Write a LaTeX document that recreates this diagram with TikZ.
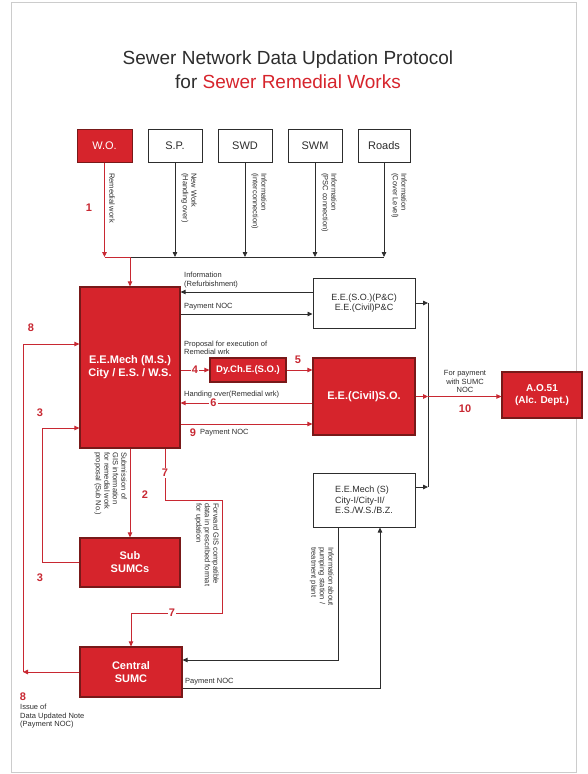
\documentclass[tikz,border=0pt]{standalone}
\usepackage{fontspec}
\setmainfont{Liberation Sans}
\usetikzlibrary{arrows.meta}
\definecolor{sred}{RGB}{214,36,44}
\definecolor{sdark}{RGB}{120,25,25}
\definecolor{ink}{RGB}{45,45,45}
\definecolor{lred}{RGB}{200,40,50}
\begin{document}
\begin{tikzpicture}[x=1pt,y=-1pt,
 redbox/.style={draw=sdark,line width=1.2pt,fill=sred,text=white,font=\bfseries\fontsize{11}{13}\selectfont,align=center,inner sep=1pt},
 topbox/.style={draw=ink,line width=1pt,fill=white,text=ink,font=\fontsize{11}{13}\selectfont,minimum width=54pt,minimum height=33pt,inner sep=1pt},
 whitebox/.style={draw=ink,line width=1pt,fill=white,text=ink,font=\fontsize{9}{10.5}\selectfont,align=center,inner sep=1pt},
 blk/.style={draw=ink,line width=0.8pt},
 rln/.style={draw=lred,line width=0.9pt},
 tip/.style={-{Triangle[length=5pt,width=4.5pt]}},
 lbl/.style={text=ink,font=\fontsize{7.5}{8.5}\selectfont,inner sep=0pt,align=left},
 num/.style={text=lred,font=\bfseries\fontsize{11}{12}\selectfont,inner sep=1pt},
]
\useasboundingbox (0,0) rectangle (587,774);
\draw[gray!40,line width=0.6pt] (11,2) rectangle (576,772);

% title
\node[font=\fontsize{19}{22}\selectfont,text=ink] (t1) at (288,60) {Sewer Network Data Updation Protocol};
\node[font=\fontsize{19}{22}\selectfont,text=ink] (t2) at (288,82) {for \textcolor{sred}{Sewer Remedial Works}};

% top boxes
\node[topbox,fill=sred,draw=sdark,text=white,minimum width=55pt] (wo) at (104.5,145.5) {W.O.};
\node[topbox] (sp) at (175,145.5) {S.P.};
\node[topbox] (swd) at (245,145.5) {SWD};
\node[topbox] (swm) at (315,145.5) {SWM};
\node[topbox,minimum width=52pt] (roads) at (384,145.5) {Roads};

% main boxes
\node[redbox,minimum width=100pt,minimum height=161pt] (eemech) at (130,367.5) {E.E.Mech (M.S.)\\City / E.S. / W.S.};
\node[whitebox,minimum width=102pt,minimum height=50pt] (eeso) at (364,303) {E.E.(S.O.)(P\&C)\\E.E.(Civil)P\&C};
\node[redbox,font=\bfseries\fontsize{9.5}{11}\selectfont,minimum width=76pt,minimum height=24pt] (dy) at (248,370) {Dy.Ch.E.(S.O.)};
\node[redbox,minimum width=102pt,minimum height=77pt] (eecivil) at (364,396.5) {E.E.(Civil)S.O.};
\node[redbox,font=\bfseries\fontsize{10}{12}\selectfont,minimum width=80pt,minimum height=46pt] (ao) at (542,395) {A.O.51\\(Alc. Dept.)};
\node[whitebox,align=left,minimum width=102pt,minimum height=54pt] (eemechs) at (364,500) {E.E.Mech (S)\\City-I/City-II/\\E.S./W.S./B.Z.};
\node[redbox,minimum width=100pt,minimum height=49pt] (sub) at (130,562.5) {Sub\\SUMCs};
\node[redbox,minimum width=102pt,minimum height=50pt] (central) at (131,672) {Central\\SUMC};

% bus
\coordinate (bus) at (0,257);
\coordinate (jn) at (130,257);
\draw[rln,tip] (wo.south) -- (wo.south |- bus);
\draw[blk,tip] (sp.south) -- (sp.south |- bus);
\draw[blk,tip] (swd.south) -- (swd.south |- bus);
\draw[blk,tip] (swm.south) -- (swm.south |- bus);
\draw[blk,tip] (roads.south) -- (roads.south |- bus);
\draw[rln] (wo.south |- bus) -- (jn);
\draw[blk] (jn) -- (roads.south |- bus);
\draw[rln,tip] (jn) -- (eemech.north);
\node[num] (n1) at (89,208) {1};

% vertical labels on top
\node[lbl,rotate=-90,anchor=south west] (lwo) at (109,173) {Remedial work};
\node[lbl,rotate=-90,anchor=south west] (lsp) at (181,173) {New Work\\(Handing over)};
\node[lbl,rotate=-90,anchor=south west] (lswd) at (251,173) {Information\\(interconnection)};
\node[lbl,rotate=-90,anchor=south west] (lswm) at (321,173) {Information\\(PSC connection)};
\node[lbl,rotate=-90,anchor=south west] (lroads) at (391,173) {Information\\(Cover Level)};

% E.E.(S.O.) connections
\draw[blk,tip] (eeso.west |- 0,292) -- (eemech.east |- 0,292);
\node[lbl,anchor=south west] (lref) at (184,288) {Information\\(Refurbishment)};
\draw[blk,tip] (eemech.east |- 0,314) -- (eeso.west |- 0,314);
\node[lbl,anchor=south west] (lpay1) at (184,310) {Payment NOC};

% 4 and 5
\draw[rln,tip] (eemech.east |- dy.west) -- (dy.west) node[num,midway,fill=white] {4};
\draw[rln,tip] (dy.east) -- (dy.east -| eecivil.west);
\node[num] (n5) at (298,360) {5};
\node[lbl,anchor=south west] (lprop) at (184,355) {Proposal for execution of\\Remedial wrk};

% 6 and 9
\draw[rln,tip] (eecivil.west |- 0,403) -- (eemech.east |- 0,403) node[num,pos=0.75,fill=white] {6};
\node[lbl,anchor=south west] (lhand) at (184,398) {Handing over(Remedial wrk)};
\draw[rln,tip] (eemech.east |- 0,424) -- (eecivil.west |- 0,424);
\node[num] (n9) at (193,433) {9};
\node[lbl,anchor=west] (lpay2) at (200,433) {Payment NOC};

% right vertical line and A.O.
\coordinate (vt) at (428,303);
\coordinate (vb) at (428,487);
\coordinate (vm) at (428,396.5);
\draw[blk] (vt) -- (vb);
\draw[blk,tip] (eeso.east) -- (vt);
\draw[blk,tip] (eemechs.east |- vb) -- (vb);
\draw[rln,tip] (eecivil.east) -- (vm);
\draw[rln,tip] (vm) -- (vm -| ao.west);
\node[lbl,align=center,anchor=south] (lfor) at (465,393) {For payment\\with SUMC\\NOC};
\node[num] (n10) at (465,409) {10};

% E.E.Mech(S) <-> Central SUMC
\draw[blk,tip] (eemechs.south -| 338,0) |- (central.east |- 0,660);
\draw[blk,tip] (central.east |- 0,688) -| (eemechs.south -| 380,0);
\node[lbl,anchor=south west] (lpay3) at (185,685) {Payment NOC};
\node[lbl,rotate=-90,anchor=north west] (linfo) at (334,547) {Information about\\pumping station /\\treatment plant};

% 2
\draw[rln,tip] (eemech.south) -- (sub.north);
\node[num] (n2) at (145,495) {2};
\node[lbl,rotate=-90,anchor=north west] (lsubm) at (127,452) {Submission of\\GIS information\\for remedial work\\proposal (Sub No.)};

% 3
\coordinate (c3) at (42,428);
\draw[rln,tip] (sub.west) -| (c3) -- (c3 -| eemech.west);
\node[num] (n3a) at (40,413) {3};
\node[num] (n3b) at (40,578) {3};

% 8
\coordinate (c8b) at (23,672);
\coordinate (c8t) at (23,344);
\draw[rln,tip] (central.west) -- (c8b);
\draw[rln,tip] (c8b) -- (c8t) -- (c8t -| eemech.west);
\node[num] (n8a) at (31,328) {8};
\node[num] (n8b) at (23,697) {8};
\node[lbl,anchor=north west] (lissue) at (20,704) {Issue of\\Data Updated Note\\(Payment NOC)};

% 7
\coordinate (c7a) at (222,500);
\coordinate (c7b) at (131,613);
\draw[rln,line width=0.7pt] (eemech.south -| 165,0) |- (c7a) |- (c7b);
\draw[rln,line width=0.7pt,tip] (c7b) -- (central.north);
\node[num,fill=white] (n7a) at (165,473) {7};
\node[num,fill=white] (n7b) at (172,613) {7};
\node[lbl,rotate=-90,anchor=north west] (lfwd) at (219,503) {Forward GIS compatible\\data in prescribed format\\for updation};
\end{tikzpicture}
\end{document}
